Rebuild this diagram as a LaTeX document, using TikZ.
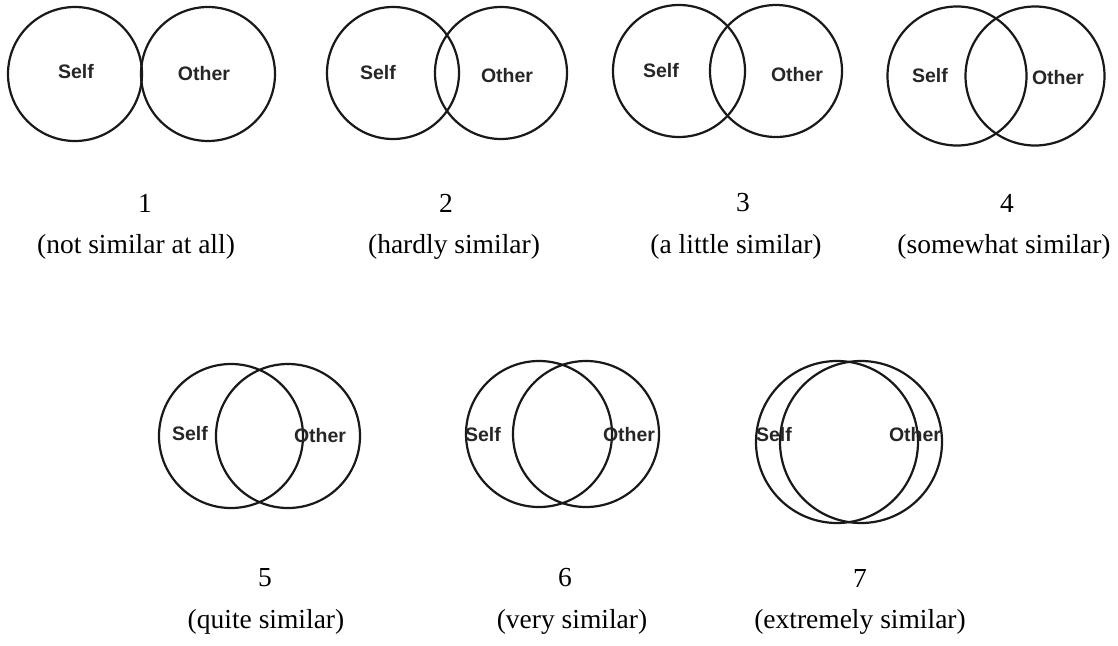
\documentclass[tikz,border=0pt]{standalone}
\usepackage{fontspec}
\setmainfont{Liberation Serif}
\setsansfont{Liberation Sans}
\usepackage{tikz}
\usetikzlibrary{positioning}
\tikzset{
  ring/.style={draw=black!90, circle, line width=2.2pt, inner sep=0pt},
  tag/.style={font=\sffamily\bfseries\fontsize{19.5}{20}\selectfont, text=black!85, inner sep=0pt},
  score/.style={font=\fontsize{27.5}{29}\selectfont, inner sep=0pt},
  verbal/.style={font=\fontsize{27.5}{29}\selectfont, inner sep=0pt},
}

\begin{document}
\begin{tikzpicture}[x=1pt,y=-1pt]
    \useasboundingbox (0,0) rectangle (1118,645);
    % row 1
    \node[ring,minimum size=134pt] (a1) at (75,74) {};
    \node[ring,minimum size=134pt] (b1) at (208,74) {};
    \node[tag] (s1) at (76,72) {Self};
    \node[tag] (o1) at (204,74) {Other};
    \node[score] (n1) at (145,203) {1};
    \node[verbal] (d1) at (136,247) {(not similar at all)};

    \node[ring,minimum size=132pt] (a2) at (393,73) {};
    \node[ring,minimum size=132pt] (b2) at (501,73) {};
    \node[tag] (s2) at (378,73) {Self};
    \node[tag] (o2) at (507,76) {Other};
    \node[score] (n2) at (446,203) {2};
    \node[verbal] (d2) at (454,247) {(hardly similar)};

    \node[ring,minimum size=132pt] (a3) at (679,71) {};
    \node[ring,minimum size=132pt] (b3) at (776,71) {};
    \node[tag] (s3) at (661,71) {Self};
    \node[tag] (o3) at (797,75) {Other};
    \node[score] (n3) at (743,203) {3};
    \node[verbal] (d3) at (736,247) {(a little similar)};

    \node[ring,minimum size=139pt] (a4) at (957,76) {};
    \node[ring,minimum size=139pt] (b4) at (1035,76) {};
    \node[tag] (s4) at (930,76) {Self};
    \node[tag] (o4) at (1058,78) {Other};
    \node[score] (n4) at (1007,203) {4};
    \node[verbal] (d4) at (1004,247) {(somewhat similar)};

    % row 2
    \node[ring,minimum size=144pt] (a5) at (231,436) {};
    \node[ring,minimum size=144pt] (b5) at (288,436) {};
    \node[tag] (s5) at (190,434) {Self};
    \node[tag] (o5) at (320,436) {Other};
    \node[score] (n5) at (265,578) {5};
    \node[verbal] (d5) at (266,622) {(quite similar)};

    \node[ring,minimum size=146pt] (a6) at (539,434) {};
    \node[ring,minimum size=146pt] (b6) at (586,434) {};
    \node[tag] (s6) at (483,435) {Self};
    \node[tag] (o6) at (629,435) {Other};
    \node[score] (n6) at (565,578) {6};
    \node[verbal] (d6) at (572,622) {(very similar)};

    \node[ring,minimum size=162pt] (a7) at (837,442) {};
    \node[ring,minimum size=162pt] (b7) at (861,442) {};
    \node[tag] (s7) at (774,435) {Self};
    \node[tag] (o7) at (915,435) {Other};
    \node[score] (n7) at (860,578) {7};
    \node[verbal] (d7) at (860,622) {(extremely similar)};
  \end{tikzpicture}
\end{document}
